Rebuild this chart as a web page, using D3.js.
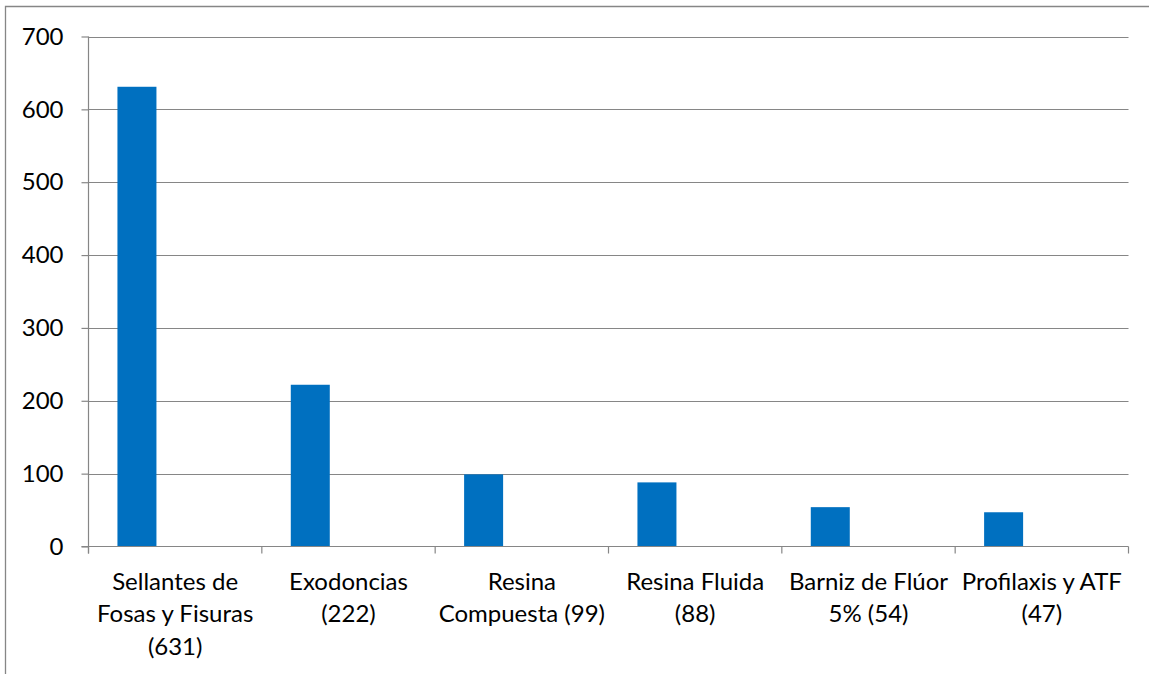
<!DOCTYPE html>
<html>
<head>
<meta charset="utf-8">
<script src="https://cdn.jsdelivr.net/npm/d3@7"></script>
<style>
  html, body { margin: 0; padding: 0; background: #fff; }
  svg { display: block; font-family: Lato, "Open Sans", sans-serif; }
</style>
</head>
<body>
<svg id="chart" width="1149" height="674"></svg>
<script>
// Procedimientos realizados (cantidad)
const categories = [
  ["Sellantes de", "Fosas y Fisuras", "(631)"],
  ["Exodoncias", "(222)"],
  ["Resina", "Compuesta (99)"],
  ["Resina Fluida", "(88)"],
  ["Barniz de Flúor", "5% (54)"],
  ["Profilaxis y ATF", "(47)"]
];
const values = [631, 222, 99, 88, 54, 47];
const yTicks = [0, 100, 200, 300, 400, 500, 600, 700];

const svg = d3.select("#chart");
const W = 1149, H = 674;
const plot = { left: 88.5, right: 1128.5, top: 36.5, bottom: 546.5 };
const fontSize = 24;
const axisColor = "#868686";

// outer frame of the chart area
svg.append("path")
  .attr("d", `M5.5,${H} V6.5 H${W}`)
  .attr("fill", "none")
  .attr("stroke", axisColor)
  .attr("stroke-width", 1.3);

const idx = d3.range(categories.length);
const x = d3.scaleBand().domain(idx).range([plot.left, plot.right]).paddingInner(0).paddingOuter(0);
const y = d3.scaleLinear().domain([0, 700]).range([plot.bottom, plot.top]);

// horizontal gridlines
svg.append("g").selectAll("line").data(yTicks.filter(d => d > 0)).join("line")
  .attr("x1", plot.left).attr("x2", plot.right)
  .attr("y1", d => Math.round(y(d)) + 0.5).attr("y2", d => Math.round(y(d)) + 0.5)
  .attr("stroke", axisColor).attr("stroke-width", 1.2);

// bars
const bw = x.bandwidth();
svg.append("g").selectAll("rect").data(values).join("rect")
  .attr("x", (d, i) => x(i) + bw * 0.167)
  .attr("width", bw * 0.225)
  .attr("y", d => y(d))
  .attr("height", d => y(0) - y(d))
  .attr("fill", "#0070c0");

// y axis
const yAxis = d3.axisLeft(y).tickValues(yTicks).tickSize(7).tickPadding(18).tickFormat(d3.format("d"));
const gy = svg.append("g").attr("transform", `translate(${plot.left},0)`).call(yAxis);
gy.select(".domain").attr("stroke", axisColor).attr("stroke-width", 1.2).attr("d", `M0,${plot.top}V${plot.bottom + 7}`);
gy.selectAll(".tick line").attr("stroke", axisColor).attr("stroke-width", 1.2);
gy.selectAll(".tick text").attr("font-size", fontSize).attr("fill", "#000").attr("font-family", "Lato");

// x axis: ticks at band boundaries
const gx = svg.append("g").attr("transform", `translate(0,${plot.bottom})`);
gx.append("line").attr("x1", plot.left - 7).attr("x2", plot.right)
  .attr("stroke", axisColor).attr("stroke-width", 1.2);
gx.selectAll("line.tk").data(d3.range(categories.length + 1)).join("line")
  .attr("class", "tk")
  .attr("x1", i => i < categories.length ? x(i) : plot.right)
  .attr("x2", i => i < categories.length ? x(i) : plot.right)
  .attr("y1", 0).attr("y2", 7)
  .attr("stroke", axisColor).attr("stroke-width", 1.2);

// category labels, wrapped over several lines
const lineH = 32.5;
gx.selectAll("text.cat").data(categories).join("text")
  .attr("class", "cat")
  .attr("text-anchor", "middle")
  .attr("font-size", fontSize)
  .attr("fill", "#000")
  .each(function(lines, i) {
    const t = d3.select(this);
    lines.forEach((ln, k) => {
      t.append("tspan")
        .attr("x", x(i) + bw / 2)
        .attr("y", 43 + k * lineH)
        .text(ln);
    });
  });
</script>
</body>
</html>
